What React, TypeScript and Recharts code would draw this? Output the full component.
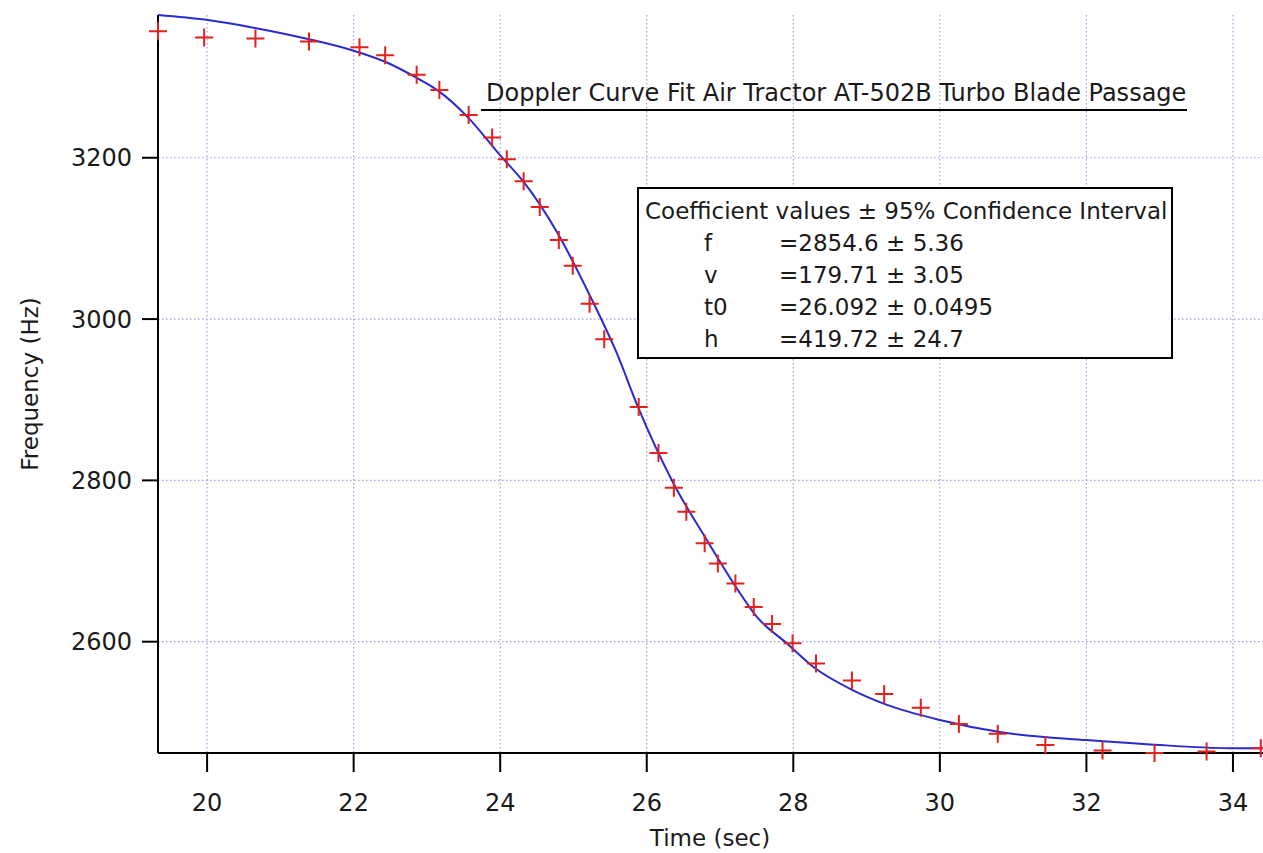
import { ComposedChart, Line, Scatter, XAxis, YAxis, CartesianGrid } from 'recharts';

// fitted Doppler curve
const fitTimes = [19.33, 19.99, 20.65, 21.39, 21.99, 22.43, 22.86, 23.17, 23.55, 24.0, 24.32, 24.78, 25.23, 25.59, 25.88, 26.36, 26.82, 27.23, 27.5, 27.91, 28.27, 28.81, 29.27, 30.0, 30.82, 32.0, 32.82, 33.96, 34.41];
const fitFreqs = [3377, 3371, 3361, 3347, 3333, 3319, 3299, 3282, 3251, 3203, 3170, 3107, 3028, 2958, 2891, 2797, 2726, 2666, 2631, 2598, 2569, 2540, 2522, 2503, 2488, 2478, 2473, 2468, 2468];

// measured blade-passage frequency (red crosses)
const measTimes = [19.33, 19.96, 20.66, 21.39, 22.08, 22.43, 22.86, 23.17, 23.57, 23.89, 24.09, 24.32, 24.54, 24.8, 24.99, 25.22, 25.42, 25.89, 26.16, 26.37, 26.54, 26.79, 26.97, 27.21, 27.46, 27.71, 27.99, 28.31, 28.8, 29.24, 29.74, 30.26, 30.79, 31.44, 32.22, 32.93, 33.64, 34.38];
const measFreqs = [3357, 3349, 3348, 3344, 3337, 3327, 3303, 3284, 3253, 3225, 3198, 3171, 3139, 3098, 3066, 3019, 2975, 2891, 2834, 2791, 2761, 2722, 2697, 2672, 2643, 2622, 2598, 2573, 2552, 2535, 2518, 2498, 2486, 2472, 2465, 2462, 2464, 2468];

const xTicks = [20, 22, 24, 26, 28, 30, 32, 34];
const yTicks = [2600, 2800, 3000, 3200];

const coefNames = ['f', 'v', 't0', 'h'];
const coefValues = ['=2854.6 ± 5.36', '=179.71 ± 3.05', '=26.092 ± 0.0495', '=419.72 ± 24.7'];

const fitData = fitTimes.map((t, i) => ({ t, freq: fitFreqs[i] }));
const measData = measTimes.map((t, i) => ({ t, freq: measFreqs[i] }));

const FONT = '"DejaVu Sans", Verdana, sans-serif';
const tickStyle = { fill: '#1a1a1a', fontSize: 24, fontFamily: FONT };

const Cross = (props: any) => {
  const { cx, cy } = props;
  if (cx == null || cy == null) return null;
  return (
    <path
      d={`M${cx - 9},${cy}h18M${cx},${cy - 9}v18`}
      stroke="#e3201b"
      strokeWidth={2}
      fill="none"
    />
  );
};

export default function App() {
  return (
    <div style={{ position: 'relative', width: 1263, height: 853 }}>
      <style>{'body{margin:0}'}</style>
      <ComposedChart width={1263} height={853} margin={{ top: 15, right: 0, bottom: 0, left: 0 }}>
        <CartesianGrid stroke="#9c9ce2" strokeDasharray="1.5 2.5" strokeWidth={1.2} syncWithTicks />
        <XAxis
          type="number"
          dataKey="t"
          domain={[19.33, 34.41]}
          ticks={xTicks}
          height={100}
          tick={tickStyle}
          tickSize={19}
          tickMargin={22}
          axisLine={{ stroke: '#000', strokeWidth: 2 }}
          tickLine={{ stroke: '#000', strokeWidth: 2 }}
        />
        <YAxis
          type="number"
          dataKey="freq"
          domain={[2462, 3377]}
          ticks={yTicks}
          width={158}
          tick={tickStyle}
          tickSize={16}
          tickMargin={10}
          axisLine={{ stroke: '#000', strokeWidth: 2 }}
          tickLine={{ stroke: '#000', strokeWidth: 2 }}
        />
        <Line
          data={fitData}
          dataKey="freq"
          type="monotone"
          stroke="#2a2ad0"
          strokeWidth={2}
          dot={false}
          isAnimationActive={false}
        />
        <Scatter data={measData} dataKey="freq" shape={Cross} isAnimationActive={false} />
      </ComposedChart>
      <svg
        width={1263}
        height={853}
        style={{ position: 'absolute', left: 0, top: 0, pointerEvents: 'none' }}
        fontFamily={FONT}
        fill="#1a1a1a"
      >
        <text x={30} y={384} fontSize={23} textAnchor="middle" dominantBaseline="central" transform="rotate(-90 30 384)">
          Frequency (Hz)
        </text>
        <text x={710} y={838} fontSize={23} textAnchor="middle" dominantBaseline="central">
          Time (sec)
        </text>
        <text x={486} y={93} fontSize={24} dominantBaseline="central">
          Doppler Curve Fit Air Tractor AT-502B Turbo Blade Passage
        </text>
        <line x1={481} x2={1187} y1={110} y2={110} stroke="#000" strokeWidth={2} />
        <rect x={638} y={188} width={534} height={170} fill="#fff" stroke="#000" strokeWidth={2} />
        <text x={645} y={211} fontSize={23} dominantBaseline="central">
          Coefficient values ± 95% Confidence Interval
        </text>
        {coefNames.map((name, i) => (
          <g key={name}>
            <text x={704} y={243 + i * 32} fontSize={23} dominantBaseline="central">{name}</text>
            <text x={779} y={243 + i * 32} fontSize={23} dominantBaseline="central">{coefValues[i]}</text>
          </g>
        ))}
      </svg>
    </div>
  );
}
